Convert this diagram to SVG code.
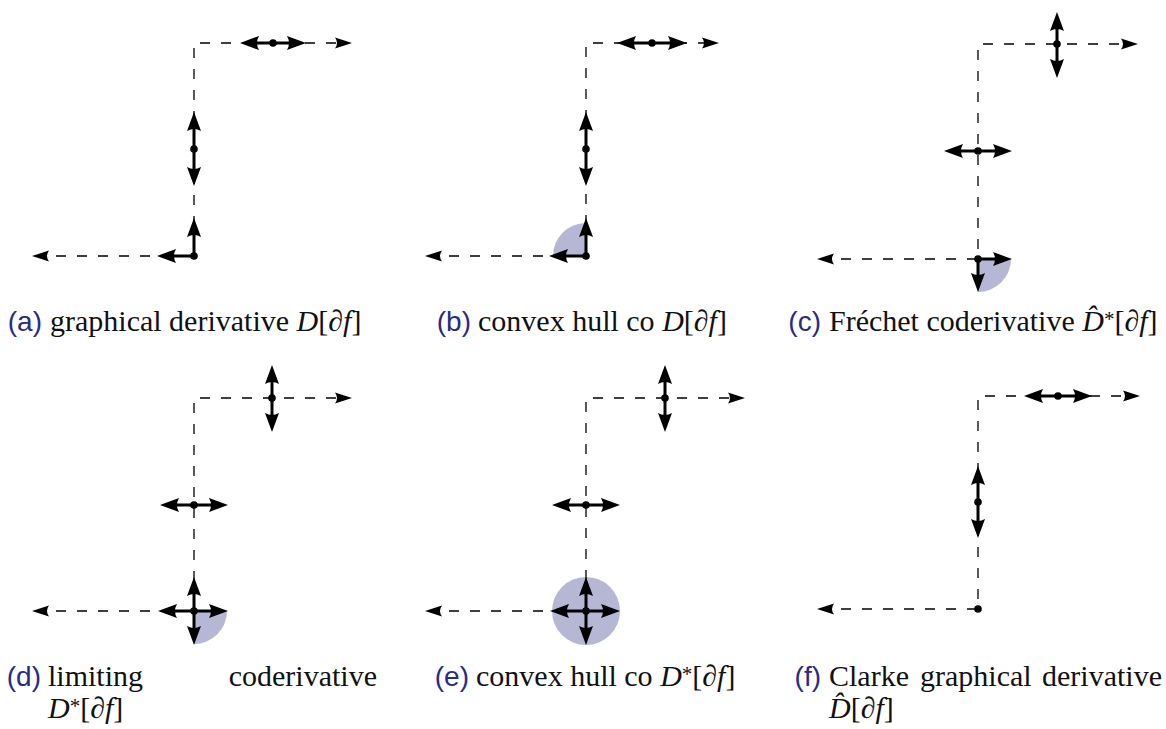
<svg xmlns="http://www.w3.org/2000/svg" width="1166" height="729" viewBox="0 0 1166 729">
<style>
.dash{fill:none;stroke:#000;stroke-width:1.3;stroke-dasharray:10 11;marker-start:url(#dh);marker-end:url(#dh)}
.arr{fill:none;stroke:#000;stroke-width:3}
.dbl{marker-start:url(#ah);marker-end:url(#ah)}
.one{marker-end:url(#ah)}
.dot{fill:#000}
.shade{fill:#b6b6d5;stroke:none}
</style>
<defs>
<marker id="ah" viewBox="-21 -8 22 16" refX="-6" refY="0" markerWidth="22" markerHeight="16" markerUnits="userSpaceOnUse" orient="auto-start-reverse"><path d="M0,0 L-19,-7 Q-15,0 -19,7 Z" fill="#000"/></marker>
<marker id="dh" viewBox="-18 -6 19 12" refX="-3" refY="0" markerWidth="19" markerHeight="12" markerUnits="userSpaceOnUse" orient="auto-start-reverse"><path d="M0,0 L-17,-5.5 Q-13,0 -17,5.5 Z" fill="#000"/></marker>
</defs>

<g id="shading">
<path class="shade" d="M586,256 L553,256 A33,33 0 0 1 586,223 Z"/>
<path class="shade" d="M978,259 L1011,259 A33,33 0 0 1 978,292 Z"/>
<path class="shade" d="M194,611 L227,611 A33,33 0 0 1 194,644 Z"/>
<circle class="shade" cx="586" cy="611" r="34"/>
</g>

<g id="connectors">
<path class="dash" d="M35,256 L194,256 L194,43 L349,43"/>
<path class="dash" d="M428,256 L586,256 L586,43 L716,43"/>
<path class="dash" d="M820,259 L978,259 L978,44 L1135,44"/>
<path class="dash" d="M35,611 L194,611 L194,398 L349,398"/>
<path class="dash" d="M428,611 L586,611 L586,398 L742,398"/>
<path class="dash" d="M820,609 L978,609 L978,396 L1137,396"/>
</g>

<g id="node-a1"><path class="arr dbl" d="M246,43 L300,43"/><circle class="dot" cx="273" cy="43" r="3.8"/></g>
<g id="node-a2"><path class="arr dbl" d="M194,118 L194,180"/><circle class="dot" cx="194" cy="149" r="3.8"/></g>
<g id="node-a3"><path class="arr one" d="M194,256 L194,224"/><path class="arr one" d="M194,256 L163,256"/><circle class="dot" cx="194" cy="256" r="3.8"/></g>

<g id="node-b1"><path class="arr dbl" d="M623,43 L681,43"/><circle class="dot" cx="652" cy="43" r="3.8"/></g>
<g id="node-b2"><path class="arr dbl" d="M586,118 L586,180"/><circle class="dot" cx="586" cy="149" r="3.8"/></g>
<g id="node-b3"><path class="arr one" d="M586,256 L586,224"/><path class="arr one" d="M586,256 L555,256"/><circle class="dot" cx="586" cy="256" r="3.8"/></g>

<g id="node-c1"><path class="arr dbl" d="M1057,18 L1057,72"/><circle class="dot" cx="1057" cy="44" r="3.8"/></g>
<g id="node-c2"><path class="arr dbl" d="M950,151 L1006,151"/><circle class="dot" cx="978" cy="151" r="3.8"/></g>
<g id="node-c3"><path class="arr one" d="M978,259 L1006,259"/><path class="arr one" d="M978,259 L978,286"/><circle class="dot" cx="978" cy="259" r="3.8"/></g>

<g id="node-d1"><path class="arr dbl" d="M272,371 L272,426"/><circle class="dot" cx="272" cy="398" r="3.8"/></g>
<g id="node-d2"><path class="arr dbl" d="M166,505 L222,505"/><circle class="dot" cx="194" cy="505" r="3.8"/></g>
<g id="node-d3"><path class="arr dbl" d="M194,583 L194,639"/><path class="arr dbl" d="M164,611 L222,611"/><circle class="dot" cx="194" cy="611" r="3.8"/></g>

<g id="node-e1"><path class="arr dbl" d="M665,371 L665,426"/><circle class="dot" cx="665" cy="398" r="3.8"/></g>
<g id="node-e2"><path class="arr dbl" d="M558,505 L614,505"/><circle class="dot" cx="586" cy="505" r="3.8"/></g>
<g id="node-e3"><path class="arr dbl" d="M586,583 L586,639"/><path class="arr dbl" d="M556,611 L614,611"/><circle class="dot" cx="586" cy="611" r="3.8"/></g>

<g id="node-f1"><path class="arr dbl" d="M1030,396 L1086,396"/><circle class="dot" cx="1058" cy="396" r="3.8"/></g>
<g id="node-f2"><path class="arr dbl" d="M978,472 L978,532"/><circle class="dot" cx="978" cy="502" r="3.8"/></g>
<g id="node-f3"><circle class="dot" cx="978" cy="609" r="3.8"/></g>

<g id="labels" font-family="Liberation Sans, Arial, sans-serif" font-size="28" fill="#2b2b84" text-anchor="end">
<text x="42" y="331">(a)</text>
<text x="471" y="331">(b)</text>
<text x="821" y="331">(c)</text>
<text x="41" y="686">(d)</text>
<text x="469" y="686">(e)</text>
<text x="821" y="686">(f)</text>
</g>

<g id="captions" font-family="Liberation Serif, Times New Roman, serif" font-size="30" fill="#111">
<g id="caption-a">
<text x="50" y="331">graphical derivative <tspan font-style="italic">D</tspan>[<tspan font-style="italic">∂f</tspan>]</text>
</g>
<g id="caption-b">
<text x="478" y="331">convex hull co <tspan font-style="italic">D</tspan>[<tspan font-style="italic">∂f</tspan>]</text>
</g>
<g id="caption-c">
<text x="829" y="331">Fréchet coderivative <tspan font-style="italic">D̂</tspan><tspan font-size="21" dy="-5">*</tspan><tspan dy="5">[</tspan><tspan font-style="italic">∂f</tspan>]</text>
</g>
<g id="caption-d">
<text x="48" y="686">limiting</text>
<text x="377" y="686" text-anchor="end">coderivative</text>
<text x="48" y="718"><tspan font-style="italic">D</tspan><tspan font-size="21" dy="-5">*</tspan><tspan dy="5">[</tspan><tspan font-style="italic">∂f</tspan>]</text>
</g>
<g id="caption-e">
<text x="476" y="686">convex hull co <tspan font-style="italic">D</tspan><tspan font-size="21" dy="-5">*</tspan><tspan dy="5">[</tspan><tspan font-style="italic">∂f</tspan>]</text>
</g>
<g id="caption-f">
<text x="829" y="686">Clarke</text>
<text x="920" y="686">graphical</text>
<text x="1162" y="686" text-anchor="end">derivative</text>
<text x="829" y="718"><tspan font-style="italic">D̂</tspan>[<tspan font-style="italic">∂f</tspan>]</text>
</g>
</g>
</svg>
